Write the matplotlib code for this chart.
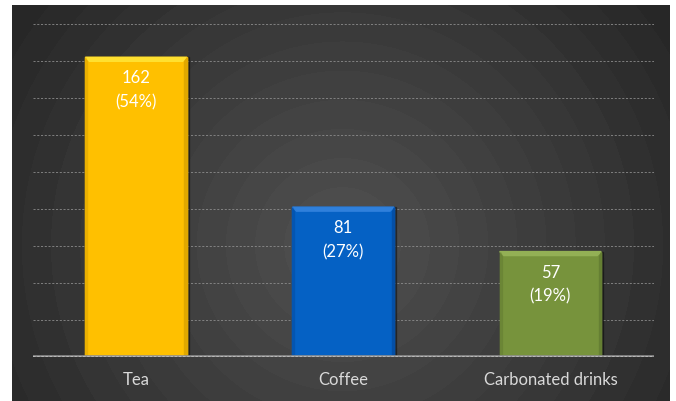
import numpy as np
import matplotlib
matplotlib.use('Agg')
import matplotlib.pyplot as plt
from matplotlib.patches import Polygon, Rectangle

categories = ['Tea', 'Coffee', 'Carbonated drinks']
counts = [162, 81, 57]
shares = ['54%', '27%', '19%']

bar_cols = ['#ffc000', '#0561c4', '#77933c']
top_cols = ['#ffe030', '#2f80dc', '#93b055']
side_cols = ['#e0a800', '#044fa6', '#657f33']

plt.rcParams['font.family'] = ['Lato', 'DejaVu Sans']

fig = plt.figure(figsize=(6.76, 4.01), dpi=100)
fig.patch.set_facecolor('white')

# background panel with radial gradient
bg = fig.add_axes([12 / 676, 0, 658 / 676, 396 / 401])
bg.set_axis_off()
h, w = 396, 658
yy, xx = np.mgrid[0:h, 0:w]
cx, cy = 330, 240
r = np.sqrt((xx - cx) ** 2 + (yy - cy) ** 2)
r = r / r.max()
r = np.floor(r * 14) / 14  # banding like the reference
val = 0.31 - 0.165 * r
img = np.dstack([val, val, val])
bg.imshow(img, aspect='auto', extent=[0, w, h, 0])
bg.set_xlim(0, w)
bg.set_ylim(h, 0)

ax = fig.add_axes([32.5 / 676, (401 - 357) / 401, 621.5 / 676, 333 / 401])
ax.patch.set_alpha(0.0)
ax.set_xlim(-0.5, 2.5)
ax.set_ylim(0, 180)
for s in ax.spines.values():
    s.set_visible(False)
ax.set_yticks([])
ax.set_xticks(range(len(categories)))
ax.set_xticklabels(categories, color='#d9d9d9', fontsize=12)
ax.tick_params(axis='x', length=0, pad=11)

for gy in range(20, 181, 20):
    ax.axhline(gy, color='#8c8c8c', lw=0.6, ls=(0, (2.5, 2)), zorder=1)
ax.axhline(0, color='#8f8f8f', lw=2.6, zorder=3)
ax.axhline(0, color='#c0c0c0', lw=1.2, ls=(0, (1.5, 1)), zorder=3.1)

bw = 0.49
fig.canvas.draw()
inv = ax.transData.inverted()
px_x = (inv.transform((4, 0)) - inv.transform((0, 0)))[0]
px_y = (inv.transform((0, 4)) - inv.transform((0, 0)))[1]

for i, v in enumerate(counts):
    x0, x1 = i - bw / 2, i + bw / 2
    # shadow
    ax.add_patch(Rectangle((x0 + px_x * 0.5, 0), bw, v, color='black', alpha=0.35, zorder=1.5))
    ax.add_patch(Rectangle((x0, 0), bw, v, color=bar_cols[i], zorder=2))
    # bevels
    ax.add_patch(Polygon([(x0, v), (x1, v), (x1 - px_x, v - px_y), (x0 + px_x, v - px_y)],
                         color=top_cols[i], zorder=2.1))
    ax.add_patch(Polygon([(x1, v), (x1, 0), (x1 - px_x * 0.6, 0), (x1 - px_x * 0.6, v - px_y)],
                         color=side_cols[i], zorder=2.1))
    ax.add_patch(Polygon([(x0, v), (x0, 0), (x0 + px_x * 0.5, 0), (x0 + px_x * 0.5, v - px_y)],
                         color=side_cols[i], alpha=0.5, zorder=2.1))
    ax.annotate(f'{v}\n({shares[i]})', (i, v), xytext=(0, -9.5), textcoords='offset points',
                ha='center', va='top', color='white', fontsize=12, linespacing=1.6, zorder=4)

plt.savefig('out.png', dpi=100)
